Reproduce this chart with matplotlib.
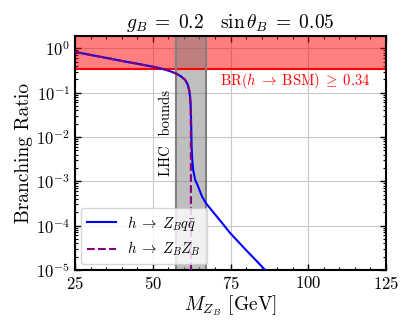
import numpy as np
import matplotlib
matplotlib.use("Agg")
import matplotlib.pyplot as plt
from matplotlib.ticker import AutoMinorLocator

# h -> Z_B q qbar (blue, solid)
mz_qq = [25, 30, 35, 40, 45, 50, 53, 55, 57.5, 59, 60.4, 61.2, 61.7, 62.0, 62.2, 62.35, 62.5, 62.7, 63.0, 63.6, 64.6, 65.8, 67.1, 70, 72.5, 74.8, 80, 83, 86.1]
br_qq = [0.83, 0.71, 0.61, 0.52, 0.45, 0.385, 0.345, 0.315, 0.27, 0.235, 0.195, 0.155, 0.115, 0.08, 0.05, 0.02, 0.006, 0.003, 1.8e-3, 1.1e-3, 7.6e-4, 4.6e-4, 3.2e-4, 1.8e-4, 1.1e-4, 6.9e-5, 2.8e-5, 1.7e-5, 1e-5]

# h -> Z_B Z_B (purple, dashed)
mz_zz = [25, 30, 35, 40, 45, 50, 53, 55, 57.5, 59, 60.4, 61.2, 61.7, 62.0, 62.2, 62.25, 62.3]
br_zz = [0.83, 0.71, 0.61, 0.52, 0.45, 0.385, 0.345, 0.315, 0.27, 0.235, 0.195, 0.155, 0.115, 0.08, 0.05, 0.01, 1e-5]

br_bsm_limit = 0.34
lhc_low, lhc_high = 57.5, 67.2

plt.rcParams["font.family"] = "serif"
plt.rcParams["font.serif"] = ["cmr10", "DejaVu Serif"]
plt.rcParams["mathtext.fontset"] = "cm"
plt.rcParams["axes.formatter.use_mathtext"] = True
plt.rcParams["axes.unicode_minus"] = False

fig = plt.figure(figsize=(4.12, 3.3), dpi=100)
ax = fig.add_axes([0.182, 0.182, 0.755, 0.709])

ax.axhspan(br_bsm_limit, 10, color="red", alpha=0.5, lw=0, zorder=1)
ax.axhline(br_bsm_limit, color="red", lw=1.5, zorder=2)
ax.axvspan(lhc_low, lhc_high, color="gray", alpha=0.5, lw=0, zorder=1)
ax.axvline(lhc_low, color="gray", lw=1.5, zorder=2)
ax.axvline(lhc_high, color="gray", lw=1.5, zorder=2)

ax.plot(mz_qq, br_qq, color="blue", lw=1.5, label=r"$h\;\rightarrow\;Z_B q\bar{q}$", zorder=4)
ax.plot(mz_zz, br_zz, color="purple", lw=1.5, ls="--", label=r"$h\;\rightarrow\;Z_B Z_B$", zorder=5)

ax.text(56.4, 1.2e-2, "LHC  bounds", rotation=90, ha="right", va="center", fontsize=10.5)
ax.text(120, 0.18, r"$\mathrm{BR}(h\;\rightarrow\;\mathrm{BSM})\;\geq\; 0.34$", color="red",
        ha="right", va="center", fontsize=10.5)

ax.set_yscale("log")
ax.set_xlim(25, 125)
ax.set_ylim(1e-5, 1.9)
ax.set_xticks([25, 50, 75, 100, 125])
ax.xaxis.set_minor_locator(AutoMinorLocator(5))
ax.grid(True, color="#c8c8c8", lw=0.8, zorder=0)
ax.set_axisbelow(True)
ax.tick_params(which="both", direction="in", top=True, right=True, labelsize=12)
ax.tick_params(which="major", length=4, width=1)
ax.tick_params(which="minor", length=2, width=0.8)
for s in ax.spines.values():
    s.set_linewidth(1.5)

ax.set_xlabel(r"$M_{Z_B}$ [GeV]", fontsize=14, labelpad=1)
ax.set_ylabel("Branching Ratio", fontsize=14, labelpad=2)
ax.set_title(r"$g_B\;=\;0.2 \quad \sin\theta_B\;=\;0.05$", fontsize=14)

ax.legend(loc="lower left", fontsize=10.5, framealpha=0.8, borderaxespad=0.4)

fig.savefig("out.png", dpi=100)
